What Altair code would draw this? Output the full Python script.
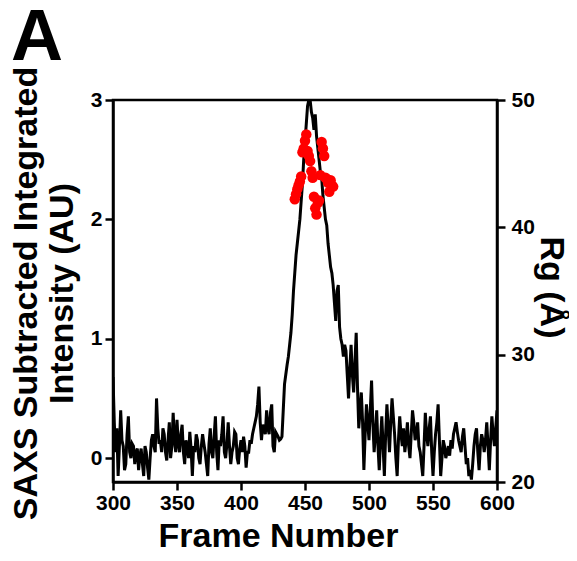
import altair as alt
import pandas as pd

# SAXS integrated intensity trace, one value per frame (300..600)
frames = list(range(300, 601))
intensity = [
    0.68, 0.30, 0.05, 0.25, -0.15, 0.10, 0.40, 0.15, 0.10, -0.10,
    -0.05, 0.20, 0.35, 0.05, 0.00, 0.12, 0.10, -0.05, 0.05, 0.08,
    -0.10, 0.02, 0.08, -0.05, -0.15, 0.10, 0.05, -0.08, -0.18, 0.00,
    0.15, 0.20, 0.10, 0.05, 0.50, 0.25, 0.12, 0.15, 0.05, 0.25,
    0.20, 0.05, -0.02, 0.15, 0.30, 0.00, 0.10, 0.38, 0.15, 0.05,
    0.32, 0.12, 0.05, 0.20, 0.28, 0.05, -0.05, 0.15, 0.10, 0.00,
    0.22, 0.08, -0.15, 0.10, 0.05, 0.20, 0.15, 0.00, -0.05, 0.10,
    0.20, 0.12, 0.05, -0.05, -0.15, 0.12, 0.25, 0.05, 0.00, 0.18,
    0.35, 0.05, -0.10, 0.15, 0.10, 0.20, 0.35, 0.05, 0.00, 0.12,
    0.30, 0.10, -0.05, 0.05, 0.10, 0.22, 0.20, 0.00, -0.05, 0.08,
    0.15, 0.05, 0.18, 0.10, -0.08, 0.05, 0.05, 0.15, 0.12, 0.20,
    0.25, 0.30, 0.35, 0.45, 0.60, 0.30, 0.15, 0.28, 0.25, 0.20,
    0.40, 0.25, 0.20, 0.38, 0.45, 0.10, 0.05, 0.22, 0.20, 0.18,
    0.15, 0.16, 0.18, 0.40, 0.62, 0.70, 0.78, 0.85, 0.95, 1.05,
    1.20, 1.40, 1.55, 1.70, 1.80, 1.90, 2.00, 2.15, 2.30, 2.50,
    2.65, 2.80, 2.95, 3.00, 3.00, 2.90, 2.85, 2.75, 2.88, 2.70,
    2.60, 2.50, 2.40, 2.35, 2.20, 2.10, 2.00, 1.95, 1.80, 1.70,
    1.60, 1.55, 1.45, 1.30, 1.15, 1.40, 1.45, 1.10, 1.00, 0.95,
    0.85, 0.95, 0.90, 0.70, 0.50, 0.75, 0.95, 0.70, 0.55, 0.80,
    1.05, 0.60, 0.25, 0.40, 0.55, 0.30, -0.10, 0.20, 0.45, 0.30,
    0.15, 0.40, 0.65, 0.30, 0.05, 0.20, 0.40, 0.10, -0.10, 0.15,
    0.35, 0.10, -0.15, 0.20, 0.45, 0.25, 0.05, 0.30, 0.50, 0.35,
    0.20, 0.00, -0.15, 0.15, 0.35, 0.20, 0.10, 0.25, 0.05, 0.15,
    0.30, 0.10, 0.00, 0.20, 0.40, 0.30, 0.15, 0.20, 0.30, 0.10,
    0.05, -0.05, -0.15, 0.10, 0.38, 0.20, 0.10, 0.25, 0.35, 0.05,
    -0.15, 0.05, 0.20, 0.30, 0.45, 0.15, -0.15, 0.00, 0.15, 0.10,
    0.00, 0.05, 0.10, 0.02, 0.15, 0.08, 0.20, 0.25, 0.30, 0.22,
    0.15, 0.10, 0.05, 0.18, 0.25, 0.10, -0.05, 0.00, -0.15, -0.10,
    -0.18, -0.05, 0.10, 0.20, 0.25, 0.05, -0.10, 0.10, 0.20, 0.15,
    0.05, 0.15, 0.30, 0.10, -0.10, 0.15, 0.35, 0.20, 0.10, 0.25,
    0.40,
]

# Radius of gyration points (frame, Rg in Angstrom)
rg_frames = [442, 443, 444, 445, 446, 447, 448, 449, 450, 451,
             452, 453, 454, 455, 456, 457, 458, 459, 460, 461,
             462, 463, 464, 465, 466, 467, 468, 469, 470, 471, 472]
rg_values = [42.2, 42.6, 43.0, 43.3, 43.6, 44.0, 45.9, 46.2, 46.8, 47.3,
             46.0, 45.6, 45.2, 44.4, 43.9, 42.4, 41.5, 41.0, 41.9, 42.1,
             44.1, 46.7, 46.2, 45.6, 43.9, 43.8, 43.5, 42.8, 43.7, 43.3, 43.2]

x_ticks = [300, 350, 400, 450, 500, 550, 600]
left_ticks = [0, 1, 2, 3]
right_ticks = [20, 30, 40, 50]

FONT = "Liberation Sans"
NB = "\u00a0"

df_line = pd.DataFrame({"frame": frames, "intensity": intensity})
df_rg = pd.DataFrame({"frame": rg_frames, "rg": rg_values})

x_enc = alt.X(
    "frame:Q",
    scale=alt.Scale(domain=[300, 600], nice=False, zero=False),
    axis=alt.Axis(
        values=x_ticks,
        title="Frame Number",
        titleX=165,
        titleY=64,
        titleBaseline="alphabetic",
        titleAlign="center",
        labelPadding=2,
        labelFlush=False,
    ),
)

line = alt.Chart(df_line).mark_line(color="black", strokeWidth=3, clip=True).encode(
    x=x_enc,
    y=alt.Y(
        "intensity:Q",
        scale=alt.Scale(domain=[-0.2, 3], nice=False, zero=False),
        axis=alt.Axis(
            orient="left",
            values=left_ticks,
            title=["SAXS Subtracted Integrated", NB * 7 + "Intensity (AU)"],
            titleAngle=-90,
            titleX=-77,
            titleY=193,
            titleAlign="center",
            titleBaseline="alphabetic",
            titleLineHeight=36,
            labelPadding=3,
            labelFlush=False,
        ),
    ),
)

points = alt.Chart(df_rg).mark_circle(color="#ff0000", opacity=1, size=110).encode(
    x=alt.X("frame:Q"),
    y=alt.Y(
        "rg:Q",
        scale=alt.Scale(domain=[20, 50], nice=False, zero=False),
        axis=alt.Axis(
            orient="right",
            values=right_ticks,
            title="Rg (Å)",
            titleAngle=90,
            titleX=43,
            titleY=187,
            titleAlign="center",
            titleBaseline="alphabetic",
            labelPadding=6,
            labelFlush=False,
        ),
    ),
)

panel = alt.Chart(pd.DataFrame({"t": ["A"]})).mark_text(
    font=FONT, fontSize=72, fontWeight="bold", align="left", baseline="alphabetic", color="black"
).encode(text="t:N", x=alt.value(-102), y=alt.value(-40))

chart = (
    alt.layer(line, points, panel)
    .resolve_scale(y="independent")
    .properties(
        width=384,
        height=382,
        autosize=alt.AutoSizeParams(type="none"),
        padding={"left": 105, "top": 92, "right": 72, "bottom": 71},
    )
    .configure_view(stroke="black", strokeWidth=2.5)
    .configure_axis(
        domain=True,
        domainColor="black",
        domainWidth=2.5,
        tickColor="black",
        tickWidth=2.5,
        tickSize=8,
        grid=False,
        labelFont=FONT,
        labelFontSize=21,
        labelFontWeight="bold",
        labelColor="black",
        titleFont=FONT,
        titleFontSize=34,
        titleFontWeight="bold",
        titleColor="black",
    )
)

chart.save("out.html", embed_options={"renderer": "svg", "actions": False})
